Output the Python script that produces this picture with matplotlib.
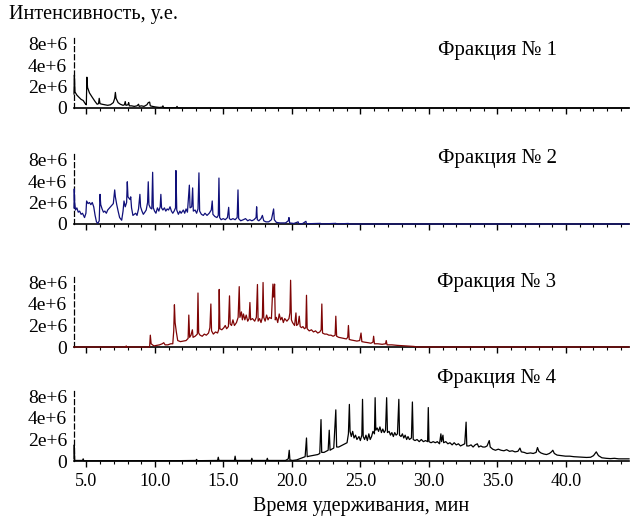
import numpy as np
import matplotlib
matplotlib.use("Agg")
import matplotlib.pyplot as plt
from matplotlib.ticker import MultipleLocator, FixedLocator

plt.rcParams['font.family'] = ['Liberation Serif', 'DejaVu Serif']

# ---------------- data (time in min, intensity in millions) ----------------
fractions = ["Фракция № 1", "Фракция № 2", "Фракция № 3", "Фракция № 4"]
colors = ["#000000", "#10107a", "#7f0505", "#000000"]

frac1 = [(4.09, 1.3), (4.12, 2.9), (4.16, 1.5), (4.30, 1.2), (4.45, 1.0), (4.61, 0.8), (4.76, 0.7),
         (4.91, 0.4), (4.99, 0.3), (5.03, 2.7), (5.08, 1.9), (5.22, 1.4), (5.42, 1.0), (5.63, 0.6),
         (5.78, 0.35), (5.88, 0.4), (5.93, 0.9), (5.99, 0.4), (6.14, 0.35), (6.34, 0.3), (6.55, 0.25),
         (6.75, 0.3), (6.96, 0.5), (7.06, 0.9), (7.11, 1.45), (7.16, 0.9), (7.31, 0.5), (7.47, 0.35),
         (7.67, 0.25), (7.77, 0.3), (7.83, 0.6), (7.88, 0.25), (8.03, 0.3), (8.08, 0.5), (8.13, 0.2),
         (8.29, 0.2), (8.49, 0.15), (8.69, 0.2), (8.80, 0.35), (8.85, 0.15), (9.00, 0.2), (9.20, 0.15),
         (9.41, 0.3), (9.51, 0.5), (9.61, 0.55), (9.66, 0.2), (9.82, 0.15), (10.02, 0.1),
         (10.33, 0.05), (10.53, 0.08), (10.58, 0.2), (10.64, 0.03), (11.04, 0.02), (11.56, 0.03),
         (11.61, 0.15), (11.66, 0.02), (12.07, 0.0), (44.6, 0.0)]

frac2 = [(4.09, 1.5), (4.11, 3.1), (4.14, 2.0), (4.20, 1.3), (4.30, 1.5), (4.40, 1.1), (4.50, 1.2),
         (4.61, 0.9), (4.71, 1.0), (4.86, 0.6), (4.96, 1.0), (5.01, 2.1), (5.12, 1.9), (5.22, 2.0),
         (5.32, 1.8), (5.42, 2.0), (5.53, 1.6), (5.63, 0.8), (5.73, 0.2), (5.83, 0.05), (5.93, 0.3),
         (5.99, 2.6), (6.04, 1.8), (6.14, 1.4), (6.24, 1.1), (6.34, 1.2), (6.45, 1.0), (6.55, 1.3),
         (6.75, 1.6), (6.96, 1.9), (7.06, 3.0), (7.11, 2.4), (7.21, 1.8), (7.31, 1.2), (7.42, 0.6),
         (7.57, 0.35), (7.67, 1.2), (7.74, 2.1), (7.83, 1.6), (7.93, 2.0), (7.98, 3.9), (8.03, 2.4),
         (8.18, 2.2), (8.23, 2.4), (8.29, 1.5), (8.39, 0.8), (8.49, 0.9), (8.59, 1.0), (8.69, 0.8),
         (8.80, 1.4), (8.90, 2.6), (8.95, 1.6), (9.05, 1.2), (9.15, 0.9), (9.26, 1.1), (9.36, 1.3),
         (9.46, 2.0), (9.51, 3.9), (9.56, 1.8), (9.66, 1.5), (9.77, 1.4), (9.83, 5.3),
         (9.88, 1.5), (9.97, 1.2), (10.07, 1.0), (10.18, 1.5), (10.28, 1.2), (10.38, 1.6),
         (10.43, 2.6), (10.48, 1.5), (10.58, 1.3), (10.69, 1.5), (10.79, 1.2), (10.89, 1.4),
         (10.99, 1.3), (11.10, 1.6), (11.20, 1.2), (11.30, 1.0), (11.40, 1.2), (11.50, 1.5),
         (11.53, 5.6), (11.59, 1.3), (11.71, 0.9), (11.82, 1.2), (11.91, 1.0), (12.07, 1.3),
         (12.17, 1.0), (12.27, 1.4), (12.37, 1.1), (12.51, 3.5), (12.56, 1.5), (12.68, 1.6),
         (12.75, 3.2), (12.80, 1.2), (12.93, 1.3), (13.04, 1.0), (13.14, 1.4), (13.21, 5.2),
         (13.26, 1.2), (13.39, 0.9), (13.53, 0.8), (13.65, 1.0), (13.80, 0.8), (13.96, 1.0),
         (14.11, 1.3), (14.18, 2.1), (14.23, 0.9), (14.37, 0.7), (14.52, 0.6), (14.62, 0.8),
         (14.67, 4.4), (14.72, 0.6), (14.83, 0.4), (14.98, 0.5), (15.13, 0.4), (15.29, 0.6),
         (15.38, 1.55), (15.43, 0.5), (15.54, 0.4), (15.69, 0.5), (15.85, 0.4), (16.00, 0.6),
         (16.06, 3.0), (16.11, 0.5), (16.26, 0.3), (16.45, 0.4), (16.61, 0.5), (16.77, 0.3),
         (16.92, 0.4), (17.07, 0.3), (17.23, 0.4), (17.38, 0.6), (17.42, 1.6), (17.47, 0.4),
         (17.58, 0.3), (17.74, 0.5), (17.84, 0.8), (17.94, 0.3), (18.10, 0.2), (18.30, 0.2),
         (18.50, 0.4), (18.66, 1.4), (18.71, 0.4), (18.86, 0.15), (19.12, 0.1), (19.32, 0.1),
         (19.53, 0.1), (19.73, 0.3), (19.78, 0.6), (19.83, 0.1), (20.14, 0.05), (20.45, 0.2),
         (20.50, 0.02), (20.75, 0.02), (21.02, 0.25), (21.06, 0.02), (22.08, 0.06), (22.13, 0.0),
         (23.20, 0.06), (23.26, 0.0), (24.12, 0.05), (24.18, 0.0), (44.6, 0.0)]

frac3 = [(4.09, 0.0), (7.88, 0.0), (7.90, 0.1), (7.93, 0.0), (9.61, 0.0), (9.66, 1.1), (9.72, 0.3),
         (9.92, 0.1), (10.12, 0.15), (10.33, 0.2), (10.53, 0.3), (10.64, 0.4), (10.74, 0.2), (10.94, 0.2),
         (11.15, 0.3), (11.30, 0.3), (11.37, 1.5), (11.42, 3.9), (11.47, 2.2), (11.56, 1.4),
         (11.66, 0.6), (11.86, 0.5), (12.07, 0.55), (12.27, 0.6), (12.42, 0.8), (12.47, 2.8),
         (12.53, 0.9), (12.63, 1.1), (12.73, 1.6), (12.78, 0.9), (12.93, 1.0), (13.09, 1.2),
         (13.14, 5.7), (13.19, 1.3), (13.29, 1.1), (13.45, 1.0), (13.60, 1.2), (13.75, 1.1),
         (13.91, 1.3), (14.01, 1.8), (14.08, 4.0), (14.13, 1.5), (14.26, 1.2), (14.42, 1.4),
         (14.57, 1.3), (14.65, 1.6), (14.69, 6.4), (14.74, 1.7), (14.88, 1.6), (15.03, 1.8),
         (15.13, 2.0), (15.23, 1.7), (15.36, 1.9), (15.44, 5.2), (15.49, 2.1), (15.59, 2.0),
         (15.69, 2.4), (15.80, 2.0), (15.95, 2.2), (16.07, 2.6), (16.15, 7.0), (16.20, 2.6),
         (16.31, 3.1), (16.38, 2.4), (16.46, 2.9), (16.56, 2.4), (16.66, 2.8), (16.77, 2.3),
         (16.87, 2.5), (16.93, 4.2), (16.98, 2.4), (17.12, 2.5), (17.28, 2.3), (17.40, 2.6),
         (17.48, 7.5), (17.53, 2.3), (17.64, 2.5), (17.74, 2.2), (17.84, 2.6), (17.89, 8.0),
         (17.94, 2.6), (18.04, 2.3), (18.15, 2.8), (18.25, 2.4), (18.35, 2.6), (18.50, 2.5),
         (18.61, 7.6), (18.66, 5.0), (18.73, 7.6), (18.78, 2.4), (18.86, 2.6), (18.96, 2.2),
         (19.07, 2.9), (19.17, 2.4), (19.27, 2.6), (19.37, 2.2), (19.47, 2.5), (19.63, 2.3),
         (19.78, 2.5), (19.85, 3.0), (19.90, 8.6), (19.96, 2.4), (20.04, 2.2), (20.19, 2.0),
         (20.29, 3.0), (20.34, 2.0), (20.45, 2.1), (20.53, 2.7), (20.60, 1.9), (20.70, 1.8),
         (20.80, 1.9), (20.91, 1.7), (21.01, 1.8), (21.06, 5.3), (21.11, 1.7), (21.26, 1.5),
         (21.42, 1.6), (21.57, 1.4), (21.72, 1.5), (21.88, 1.3), (22.03, 1.4), (22.13, 1.6),
         (22.18, 4.0), (22.23, 1.3), (22.39, 1.2), (22.54, 1.2), (22.69, 1.1), (22.85, 1.1),
         (23.00, 1.0), (23.15, 1.1), (23.20, 2.7), (23.26, 1.0), (23.41, 0.9), (23.61, 0.85),
         (23.82, 0.8), (23.97, 0.75), (24.07, 0.9), (24.12, 2.0), (24.18, 0.7), (24.33, 0.65),
         (24.53, 0.6), (24.74, 0.55), (24.94, 0.6), (25.04, 1.3), (25.10, 0.5), (25.30, 0.45),
         (25.56, 0.4), (25.76, 0.35), (25.91, 0.45), (25.96, 1.0), (26.02, 0.3), (26.27, 0.3),
         (26.58, 0.25), (26.83, 0.3), (26.88, 0.6), (26.94, 0.2), (27.29, 0.2), (27.70, 0.15),
         (28.11, 0.12), (28.52, 0.08), (28.93, 0.05), (29.03, 0.0), (44.6, 0.0)]

frac4 = [(4.09, 0.2), (4.11, 1.5), (4.14, 0.05), (4.71, 0.05), (4.76, 0.2), (4.81, 0.02), (6.45, 0.02),
         (9.51, 0.03), (11.56, 0.03), (12.99, 0.05), (13.04, 0.15), (13.09, 0.03), (14.57, 0.05),
         (14.62, 0.35), (14.67, 0.05), (15.80, 0.05), (15.85, 0.45), (15.90, 0.05), (17.02, 0.05),
         (17.07, 0.25), (17.12, 0.05), (18.15, 0.05), (18.20, 0.25), (18.25, 0.05), (19.53, 0.05),
         (19.73, 0.2), (19.80, 1.0), (19.85, 0.1), (20.04, 0.05), (20.34, 0.1), (20.55, 0.2),
         (20.75, 0.3), (20.96, 0.4), (21.06, 2.1), (21.11, 0.4), (21.26, 0.45), (21.47, 0.5),
         (21.67, 0.55), (21.88, 0.6), (22.03, 0.7), (22.12, 3.8), (22.17, 0.8), (22.34, 0.8),
         (22.49, 0.9), (22.64, 1.0), (22.72, 2.7), (22.78, 1.0), (22.90, 1.1), (23.05, 1.2),
         (23.20, 5.2), (23.26, 1.3), (23.41, 1.3), (23.56, 1.4), (23.72, 1.5), (23.87, 1.6),
         (24.02, 1.7), (24.12, 2.4), (24.19, 6.2), (24.24, 2.6), (24.33, 2.2), (24.43, 2.6),
         (24.53, 2.1), (24.64, 2.3), (24.74, 2.0), (24.89, 2.2), (24.99, 1.9), (25.10, 2.3),
         (25.15, 7.3), (25.20, 2.2), (25.30, 2.0), (25.40, 2.3), (25.50, 1.9), (25.61, 2.4),
         (25.71, 2.0), (25.81, 2.2), (25.91, 2.6), (26.02, 2.4), (26.07, 7.7), (26.12, 2.7),
         (26.22, 2.9), (26.32, 2.6), (26.42, 3.0), (26.53, 2.5), (26.63, 2.8), (26.73, 2.5),
         (26.83, 2.7), (26.91, 7.7), (26.97, 2.5), (27.09, 2.6), (27.19, 2.3), (27.29, 2.5),
         (27.40, 2.2), (27.50, 2.5), (27.60, 2.3), (27.70, 2.4), (27.80, 7.3), (27.85, 2.3),
         (27.96, 2.2), (28.06, 2.4), (28.16, 2.1), (28.26, 2.3), (28.37, 2.0), (28.47, 2.2),
         (28.57, 2.0), (28.72, 2.1), (28.79, 6.7), (28.85, 2.0), (28.98, 1.9), (29.13, 2.0),
         (29.29, 1.8), (29.44, 2.0), (29.59, 1.8), (29.75, 1.9), (29.90, 1.8), (29.95, 5.6),
         (30.00, 1.8), (30.15, 1.7), (30.31, 1.8), (30.46, 1.7), (30.61, 1.8), (30.77, 1.6),
         (30.87, 2.4), (30.92, 1.8), (31.02, 2.3), (31.07, 1.7), (31.23, 1.8), (31.38, 1.6),
         (31.53, 1.7), (31.69, 1.5), (31.84, 1.7), (31.99, 1.5), (32.15, 1.6), (32.30, 1.4),
         (32.45, 1.5), (32.61, 1.6), (32.71, 3.5), (32.76, 1.4), (32.91, 1.4), (33.07, 1.5),
         (33.22, 1.3), (33.37, 1.5), (33.53, 1.6), (33.63, 1.3), (33.78, 1.4), (33.93, 1.3),
         (34.09, 1.3), (34.24, 1.4), (34.34, 1.7), (34.40, 1.9), (34.47, 1.3), (34.65, 1.1),
         (34.85, 1.0), (35.06, 1.1), (35.26, 1.0), (35.47, 0.95), (35.67, 1.05), (35.88, 0.9),
         (36.08, 0.95), (36.28, 0.85), (36.49, 0.9), (36.64, 1.2), (36.74, 0.85), (36.95, 0.8),
         (37.15, 0.7), (37.41, 0.75), (37.61, 0.7), (37.82, 0.8), (37.92, 1.25), (38.02, 0.9),
         (38.17, 0.75), (38.38, 0.65), (38.58, 0.6), (38.79, 0.7), (38.94, 0.85), (39.04, 1.0),
         (39.15, 0.7), (39.35, 0.55), (39.66, 0.5), (39.96, 0.45), (40.27, 0.45), (40.58, 0.4),
         (40.88, 0.38), (41.19, 0.35), (41.50, 0.33), (41.80, 0.35), (42.01, 0.5), (42.21, 0.85),
         (42.37, 0.5), (42.62, 0.3), (42.93, 0.25), (43.24, 0.22), (43.54, 0.25), (43.85, 0.2),
         (44.26, 0.2), (44.6, 0.2)]

series = [frac1, frac2, frac3, frac4]

y_ticks = [0, 2e6, 4e6, 8e6]
y_ticklabels = ["0", "2e+6", "4e+6", "8e+6"]
x_major = [5, 10, 15, 20, 25, 30, 35, 40]
x_ticklabels = ["5.0", "10.0", "15.0", "20.0", "25.0", "30.0", "35.0", "40.0"]
y_label = "Интенсивность, у.е."
x_label = "Время удерживания, мин"


# ---------------- nonlinear intensity scale ----------------
def fwd(y):
    y = np.asarray(y, dtype=float)
    return np.where(y <= 2e6, y / 2e6, 1.0 + np.log2(np.maximum(y, 2e6) / 2e6))


def inv(f):
    f = np.asarray(f, dtype=float)
    return np.where(f <= 1, f * 2e6, 2e6 * np.exp2(np.clip(f, -60, 60) - 1.0))


W, H = 630, 518
fig = plt.figure(figsize=(W / 100, H / 100), dpi=100)

step_px = 21.5
top_f = 3.3
left_px, right_px = 74, 629
zero_px = [108, 224, 347, 461]
title_px = [51, 158, 283, 378]

for i, (data, col) in enumerate(zip(series, colors)):
    bottom = 1 - zero_px[i] / H
    height = top_f * step_px / H
    ax = fig.add_axes([left_px / W, bottom, (right_px - left_px) / W, height])
    ax.set_yscale('function', functions=(fwd, inv))
    t = np.array([p[0] for p in data])
    v = np.array([p[1] for p in data]) * 1e6
    ax.plot(t, v, color=col, lw=0.9, zorder=3, clip_on=False)
    ax.set_xlim(4.09, 44.6)
    ax.set_ylim(0, float(inv(top_f)))
    for s in ['top', 'right']:
        ax.spines[s].set_visible(False)
    ax.spines['left'].set_linestyle((0, (4, 2.5)))
    ax.spines['left'].set_linewidth(0.9)
    ax.spines['bottom'].set_linewidth(1.2)
    ax.yaxis.set_major_locator(FixedLocator(y_ticks))
    ax.set_yticklabels(y_ticklabels)
    ax.yaxis.set_minor_locator(FixedLocator([]))
    ax.tick_params(axis='y', length=0, pad=5, labelsize=14)
    ax.xaxis.set_major_locator(FixedLocator(x_major))
    ax.xaxis.set_minor_locator(MultipleLocator(1))
    ax.tick_params(axis='x', which='major', length=4, width=1.0, direction='out', pad=5, labelsize=13)
    ax.tick_params(axis='x', which='minor', length=2.2, width=0.8, direction='out')
    if i == 3:
        ax.set_xticklabels(x_ticklabels)
    else:
        ax.set_xticklabels([])
    ax.patch.set_alpha(0)
    fig.text(497 / W, 1 - title_px[i] / H, fractions[i], ha='center', va='center', fontsize=15)

fig.text(9 / W, 1 - 15 / H, y_label, ha='left', va='center', fontsize=14.5)
fig.text(361 / W, 1 - 507 / H, x_label, ha='center', va='center', fontsize=14.5)

fig.savefig("out.png", dpi=100)
